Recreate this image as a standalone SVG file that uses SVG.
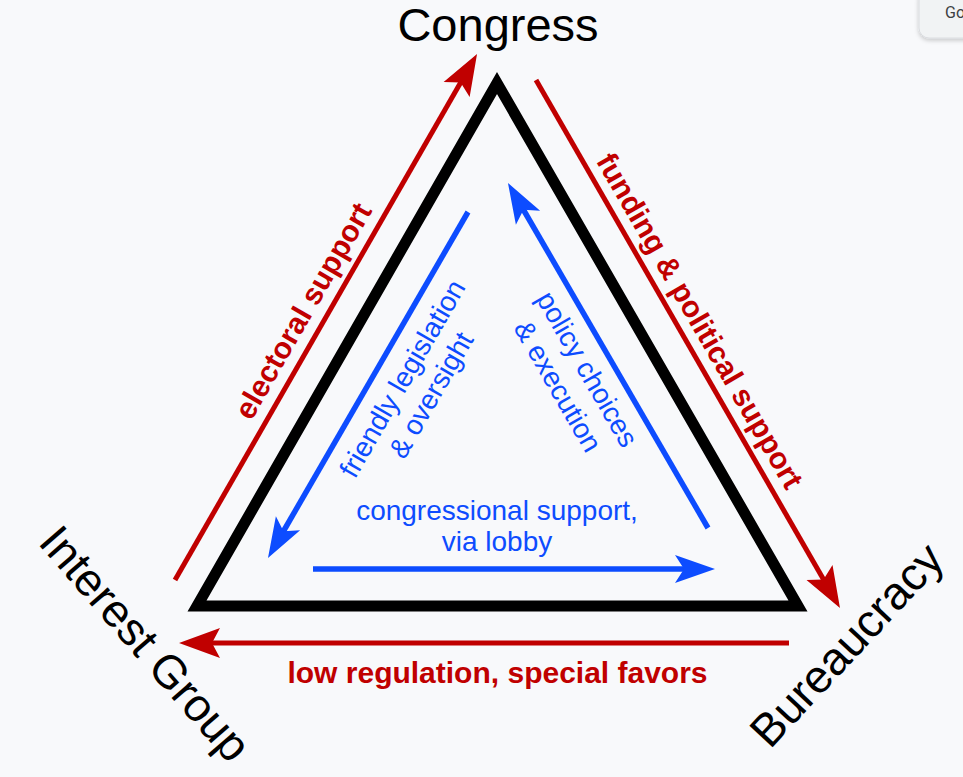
<svg xmlns="http://www.w3.org/2000/svg" width="963" height="777" viewBox="0 0 963 777">
<defs>
<style>
.red{stroke:#c00000;stroke-width:5;fill:none}
.blue{stroke:#0d4cff;stroke-width:5.5;fill:none}
.rt{fill:#c00000;font-family:"Liberation Sans",Arial,sans-serif;font-weight:bold;font-size:30px;text-anchor:middle}
.bt{fill:#0d4cff;font-family:"Liberation Sans",Arial,sans-serif;font-size:28px;text-anchor:middle}
.nt{fill:#000;font-family:"Liberation Sans",Arial,sans-serif;font-size:46px}
</style>
<marker id="ahr" markerUnits="userSpaceOnUse" markerWidth="10" markerHeight="10" orient="auto" overflow="visible">
<path d="M30,0 L-11,-15 L-3,0 L-11,15 Z" fill="#c00000"/>
</marker>
<marker id="ahb" markerUnits="userSpaceOnUse" markerWidth="10" markerHeight="10" orient="auto" overflow="visible">
<path d="M30,0 L-10,-14 L-1,0 L-10,14 Z" fill="#0d4cff"/>
</marker>
<filter id="sh" x="-20%" y="-50%" width="140%" height="200%">
<feDropShadow dx="0" dy="2" stdDeviation="2" flood-color="#000" flood-opacity="0.2"/>
</filter>
</defs>
<rect width="963" height="777" fill="#f8f9fb"/>
<g id="gobutton">
<rect x="919" y="-12" width="60" height="50" rx="10" fill="#f1f3f4" stroke="#dadce0" stroke-width="1" filter="url(#sh)"/>
<text x="945" y="18" font-family="Roboto,'Liberation Sans',sans-serif" font-size="16" fill="#3c4043">Go</text>
</g>
<g id="triangle">
<polygon points="497,83 197,606 798,606" fill="none" stroke="#000" stroke-width="11" stroke-linejoin="miter" stroke-miterlimit="10"/>
</g>
<g id="connectors">
<line class="red" x1="175" y1="580" x2="462.1" y2="80" marker-end="url(#ahr)"/>
<line class="red" x1="536" y1="80" x2="825" y2="582" marker-end="url(#ahr)"/>
<line class="red" x1="789" y1="643" x2="209" y2="643" marker-end="url(#ahr)"/>
<line class="blue" x1="468" y1="212" x2="283" y2="532" marker-end="url(#ahb)"/>
<line class="blue" x1="708" y1="528" x2="523" y2="209" marker-end="url(#ahb)"/>
<line class="blue" x1="313" y1="569" x2="685" y2="569" marker-end="url(#ahb)"/>
</g>
<g id="congress"><text class="nt" x="498" y="41" text-anchor="middle" style="font-size:47px">Congress</text></g>
<g id="interest-group"><text class="nt" transform="translate(37,543) rotate(49)">Interest Group</text></g>
<g id="bureaucracy"><text class="nt" transform="translate(770,750) rotate(-47)">Bureaucracy</text></g>
<g id="labels">
<text class="rt" transform="translate(312,316) rotate(-60)">electoral support</text>
<text class="rt" transform="translate(691,326) rotate(60)">funding &amp; political support</text>
<text class="rt" x="497.5" y="683">low regulation, special favors</text>
<text class="bt" x="497" y="520">congressional support,</text>
<text class="bt" x="497" y="551">via lobby</text>
<text class="bt" transform="translate(410.7,383.3) rotate(-60)">friendly legislation</text>
<text class="bt" transform="translate(439.3,399.8) rotate(-60)">&amp; oversight</text>
<text class="bt" transform="translate(579,374) rotate(60)">policy choices</text>
<text class="bt" transform="translate(549.6,391) rotate(60)">&amp; execution</text>
</g>
</svg>
